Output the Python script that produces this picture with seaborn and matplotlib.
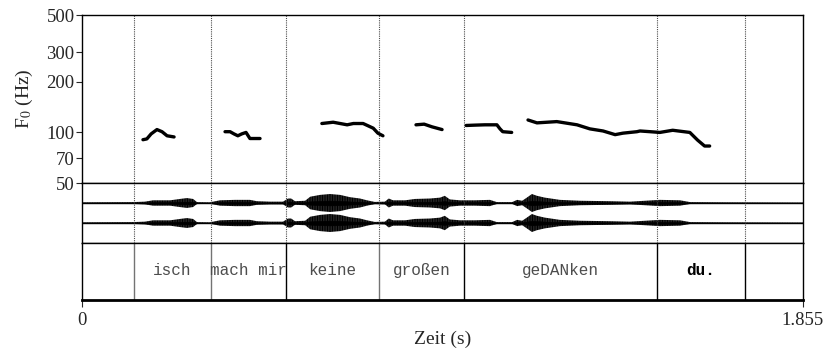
import numpy as np
import pandas as pd
import seaborn as sns
import matplotlib.pyplot as plt

# ===============================
# DATA
# ===============================
t_end = 1.855

# word boundaries (s) and labels of the text tier
bounds = [0.135, 0.333, 0.525, 0.765, 0.983, 1.480, 1.706]
words = ["isch", "mach mir", "keine", "großen", "geDANken", "du."]

# F0 contour segments: time (s) and F0 (Hz)
seg1_t = [0.158, 0.168, 0.179, 0.194, 0.207, 0.220, 0.238]
seg1_f = [90.5, 91.5, 98, 104, 101, 95.5, 94]
seg2_t = [0.369, 0.382, 0.392, 0.402, 0.412, 0.423, 0.433, 0.459]
seg2_f = [101, 101, 98, 95.5, 98, 100, 92, 92]
seg3_t = [0.618, 0.647, 0.683, 0.699, 0.724, 0.750, 0.762, 0.775]
seg3_f = [113, 115, 111, 113, 113, 106, 99, 95.5]
seg4_t = [0.860, 0.881, 0.901, 0.927]
seg4_f = [111, 112, 108, 104]
seg5_t = [0.989, 1.011, 1.037, 1.068, 1.076, 1.083, 1.106]
seg5_f = [110, 110.5, 111, 111, 105, 101, 100]
seg6_t = [1.148, 1.171, 1.222, 1.274, 1.307, 1.341, 1.372, 1.392, 1.428,
          1.436, 1.462, 1.487, 1.520, 1.564, 1.584, 1.602, 1.615]
seg6_f = [118.6, 114, 116, 111, 105, 102, 97, 99, 101,
          102, 101, 100, 103, 100, 90, 83, 83]

# waveform amplitude envelope (relative, 1 = loudest)
env_t = [0.0, 0.132, 0.163, 0.184, 0.228, 0.253, 0.271, 0.287, 0.297, 0.330,
         0.356, 0.395, 0.433, 0.451, 0.485, 0.518, 0.531, 0.539, 0.549, 0.575,
         0.588, 0.613, 0.639, 0.665, 0.690, 0.716, 0.734, 0.754, 0.780, 0.790,
         0.801, 0.832, 0.857, 0.896, 0.922, 0.934, 0.947, 0.973, 1.011, 1.050,
         1.068, 1.107, 1.120, 1.133, 1.145, 1.158, 1.171, 1.191, 1.230, 1.282,
         1.359, 1.410, 1.449, 1.487, 1.539, 1.565, 1.660, 1.855]
env_a = [0.08, 0.1, 0.15, 0.3, 0.3, 0.45, 0.55, 0.45, 0.1, 0.08,
         0.3, 0.35, 0.35, 0.2, 0.15, 0.15, 0.5, 0.5, 0.2, 0.25,
         0.7, 0.9, 1.0, 0.9, 0.65, 0.5, 0.3, 0.12, 0.15, 0.5,
         0.3, 0.3, 0.45, 0.5, 0.6, 0.8, 0.4, 0.3, 0.3, 0.35,
         0.1, 0.1, 0.35, 0.25, 0.6, 1.0, 0.8, 0.6, 0.35, 0.25,
         0.2, 0.15, 0.25, 0.35, 0.3, 0.1, 0.08, 0.06]

segs = [(seg1_t, seg1_f), (seg2_t, seg2_f), (seg3_t, seg3_f),
        (seg4_t, seg4_f), (seg5_t, seg5_f), (seg6_t, seg6_f)]
f0 = pd.concat([pd.DataFrame({"t": t, "f0": f, "seg": i})
                for i, (t, f) in enumerate(segs)], ignore_index=True)

# ===============================
# STYLE
# ===============================
sns.set_theme(style="ticks")
plt.rcParams["font.family"] = ["Liberation Serif", "DejaVu Serif"]
plt.rcParams["mathtext.fontset"] = "stix"
plt.rcParams["axes.edgecolor"] = "black"
plt.rcParams["axes.linewidth"] = 1.0
plt.rcParams["hatch.linewidth"] = 1.1

W, H = 827, 350
fig = plt.figure(figsize=(W / 100, H / 100), dpi=100)
x0, x1 = 81.5, 803
ax_f0 = fig.add_axes([x0 / W, 1 - 183 / H, (x1 - x0) / W, 168 / H])
ax_wav = fig.add_axes([x0 / W, 1 - 243 / H, (x1 - x0) / W, 60 / H])
ax_tier = fig.add_axes([x0 / W, 1 - 299.5 / H, (x1 - x0) / W, 56.5 / H])

# ===============================
# F0 PANEL
# ===============================
for b in bounds:
    ax_f0.axvline(b, ls=(0, (1, 1)), color="0.3", lw=0.8)
sns.lineplot(data=f0, x="t", y="f0", units="seg", estimator=None,
             color="black", lw=2.4, ax=ax_f0, legend=False)
ax_f0.set_yscale("log")
ax_f0.set_ylim(50, 500)
ax_f0.set_yticks([50, 70, 100, 200, 300, 500])
ax_f0.set_yticklabels(["50", "70", "100", "200", "300", "500"])
ax_f0.minorticks_off()
ax_f0.set_xlim(0, t_end)
ax_f0.set_xticks([])
ax_f0.set_xlabel("")
ax_f0.set_ylabel("F$_0$ (Hz)", fontsize=14, labelpad=8)
ax_f0.tick_params(axis="y", labelsize=13.5, length=4, width=0.8, pad=1)

# ===============================
# WAVEFORM PANEL (two channels)
# ===============================
env_a = np.array(env_a)
for c in [2, 1]:
    ax_wav.fill_between(env_t, c - 0.45 * env_a, c + 0.45 * env_a,
                        facecolor="none", edgecolor="black",
                        hatch="||||||||||", lw=0)
    ax_wav.fill_between(env_t, c - 0.12 * env_a, c + 0.12 * env_a,
                        color="black", lw=0.4)
    ax_wav.axhline(c, color="black", lw=1.0)
for b in bounds:
    ax_wav.axvline(b, ls=(0, (1, 1)), color="0.3", lw=0.8)
ax_wav.set_xlim(0, t_end)
ax_wav.set_ylim(0, 3)
ax_wav.set_xticks([])
ax_wav.set_yticks([])

# ===============================
# TEXT TIER
# ===============================
line_cols = ["0.45", "0.45", "black", "0.45", "black", "black", "black"]
for b, col in zip(bounds, line_cols):
    ax_tier.axvline(b, color=col, lw=1.0)
for i, w in enumerate(words):
    mid = (bounds[i] + bounds[i + 1]) / 2
    ax_tier.text(mid, 0.52, w, ha="center", va="center", fontsize=11.5,
                 family=["Liberation Mono", "DejaVu Sans Mono"],
                 color="black" if w == "du." else "0.3",
                 fontweight="bold" if w == "du." else "normal")
ax_tier.set_xlim(0, t_end)
ax_tier.set_ylim(0, 1)
ax_tier.set_yticks([])
ax_tier.spines["bottom"].set_linewidth(2.0)
ax_tier.set_xticks([0, t_end])
ax_tier.set_xticklabels(["0", "1.855"])
ax_tier.tick_params(axis="x", labelsize=13.5, length=5, width=0.8, pad=4)
ax_tier.set_xlabel("Zeit (s)", fontsize=14, labelpad=1)

fig.savefig("out.png", dpi=100)
